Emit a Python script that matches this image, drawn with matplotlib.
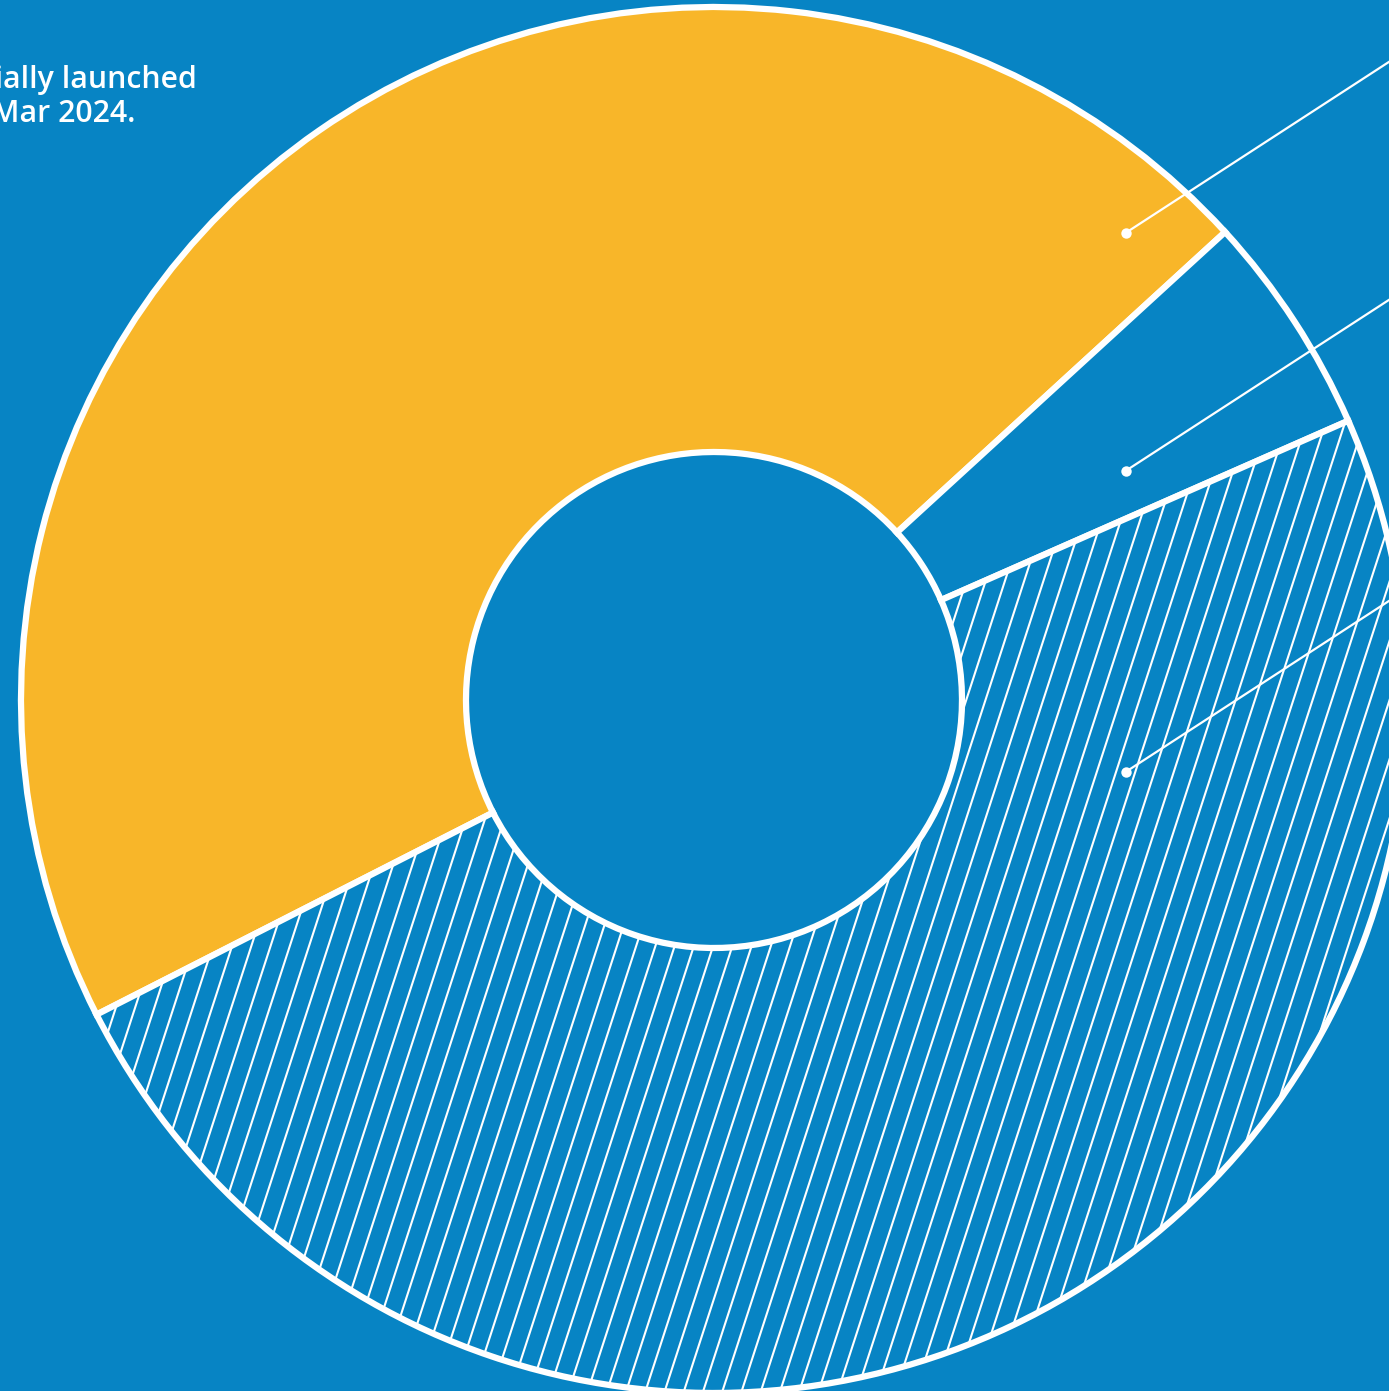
import numpy as np
import matplotlib.pyplot as plt
from matplotlib.collections import LineCollection

W, H = 1389, 1391

# segment shares (%), clockwise from the lower-left boundary
shares = [45.7, 5.2, 49.1]
seg_colors = ['#F8B629', '#0784C4', '#0784C4']
seg_hatched = [False, False, True]

# leader dots: angle (deg) and radius (px) inside each segment
dot_angles = [48.6, 29.1, -9.9]
dot_radii = [623, 471, 418]

note_lines = ['officially launched', 'in Mar 2024.']

BG = '#0784C4'
plt.rcParams['font.family'] = ['Open Sans', 'DejaVu Sans']

fig = plt.figure(figsize=(W / 100, H / 100), dpi=100, facecolor=BG)
ax = fig.add_axes([0, 0, 1, 1])
ax.set_facecolor(BG)

cx, cy = 714, H - 700
r_out, r_in = 693, 248

wedges, _ = ax.pie(shares, colors=seg_colors, startangle=207, counterclock=False,
                   center=(cx, cy), radius=r_out,
                   wedgeprops=dict(width=r_out - r_in, edgecolor='white', linewidth=4.5))

# diagonal hatch, clipped to the hatched segments
theta = np.deg2rad(72)
d = np.array([np.cos(theta), np.sin(theta)])
n = np.array([-np.sin(theta), np.cos(theta)])
spacing = 18.3
for w, h in zip(wedges, seg_hatched):
    if not h:
        continue
    segs = []
    for o in np.arange(-1100, 1100, spacing):
        base = np.array([cx, cy]) + n * o
        segs.append([base - d * 1500, base + d * 1500])
    lc = LineCollection(segs, colors='white', linewidths=1.5, zorder=2)
    ax.add_collection(lc)
    lc.set_clip_path(w)

# leader lines with dots
lead = np.deg2rad(33)
for a, r in zip(dot_angles, dot_radii):
    px = cx + r * np.cos(np.deg2rad(a))
    py = cy + r * np.sin(np.deg2rad(a))
    ax.plot([px, px + 800 * np.cos(lead)], [py, py + 800 * np.sin(lead)],
            color='white', lw=1.6, zorder=4, solid_capstyle='butt')
    ax.plot(px, py, 'o', ms=7.5, color='white', zorder=5, mec='none')

ax.text(197, H - 88, note_lines[0], ha='right', va='baseline',
        fontsize=21.8, fontweight='semibold', color='white')
ax.text(135, H - 122, note_lines[1], ha='right', va='baseline',
        fontsize=21.8, fontweight='semibold', color='white')

ax.set_xlim(0, W)
ax.set_ylim(0, H)
ax.set_aspect('auto')
ax.axis('off')

fig.savefig('out.png', dpi=100, facecolor=BG)
